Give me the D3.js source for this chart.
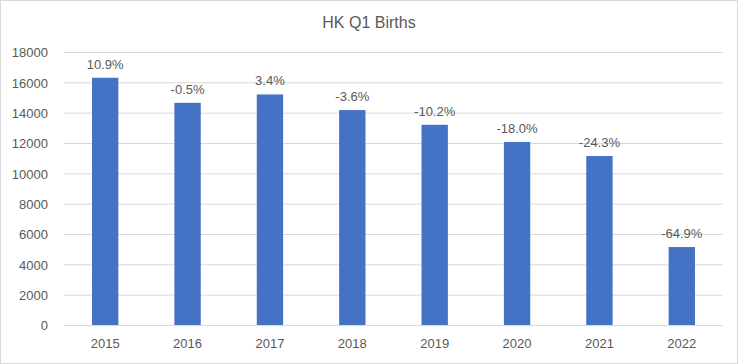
<!DOCTYPE html>
<html><head><meta charset="utf-8">
<script src="https://cdn.jsdelivr.net/npm/d3@7"></script>
<style>body{margin:0;background:#fff}svg{display:block}</style>
</head><body>
<svg id="c" width="738" height="364"></svg>
<script>
const years = ["2015","2016","2017","2018","2019","2020","2021","2022"];
const births = [16300, 14650, 15200, 14170, 13200, 12070, 11140, 5140];
const changeLabels = ["10.9%","-0.5%","3.4%","-3.6%","-10.2%","-18.0%","-24.3%","-64.9%"];
const yTicks = [0,2000,4000,6000,8000,10000,12000,14000,16000,18000];

const svg = d3.select("#c");
const W = 738, H = 364;
const font = "'Liberation Sans', Arial, sans-serif";
const txt = "#595959";

svg.append("rect").attr("x",0.5).attr("y",0.5).attr("width",W-1).attr("height",H-1)
  .attr("fill","#fff").attr("stroke","#d9d9d9");

const x = d3.scaleBand().domain(years).range([64, 723]).paddingInner(0.68).paddingOuter(0.34);
const y = d3.scaleLinear().domain([0,18000]).range([325, 52]);

svg.append("text").attr("x",369).attr("y",28).attr("text-anchor","middle")
  .attr("font-family",font).attr("font-size",16).attr("fill",txt).text("HK Q1 Births");

const ya = svg.append("g").attr("transform","translate(64,0)")
  .call(d3.axisLeft(y).tickValues(yTicks).tickSize(-659).tickPadding(16).tickFormat(d3.format("d")));
ya.select(".domain").remove();
ya.selectAll("line").attr("stroke","#d9d9d9");
ya.selectAll("text").attr("font-family",font).attr("font-size",13).attr("fill",txt).attr("dy","0.36em");

const xa = svg.append("g").attr("transform","translate(0,325)")
  .call(d3.axisBottom(x).tickSize(0).tickPadding(14));
xa.select(".domain").remove();
xa.selectAll("text").attr("font-family",font).attr("font-size",13).attr("fill",txt);

svg.append("g").selectAll("rect").data(years).join("rect")
  .attr("x", d => x(d)).attr("width", x.bandwidth())
  .attr("y", (d,i) => y(births[i])).attr("height", (d,i) => y(0) - y(births[i]))
  .attr("fill","#4472c4");

svg.append("g").selectAll("text").data(years).join("text")
  .attr("x", d => x(d) + x.bandwidth()/2).attr("y", (d,i) => y(births[i]) - 9)
  .attr("text-anchor","middle").attr("font-family",font).attr("font-size",13).attr("fill",txt)
  .text((d,i) => changeLabels[i]);
</script>
</body></html>
